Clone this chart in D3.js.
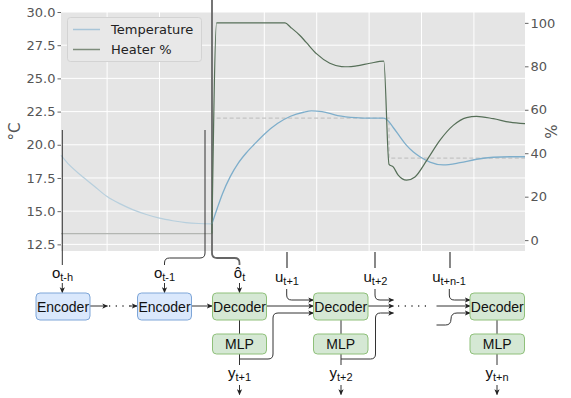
<!DOCTYPE html>
<html><head><meta charset="utf-8">
<script src="https://cdn.jsdelivr.net/npm/d3@7"></script>
<style>body{margin:0;background:#fff}svg{display:block}</style>
</head><body><svg id="c" width="571" height="398"></svg>
<script>
// ---------- data ----------
const tempTicks = [12.5, 15, 17.5, 20, 22.5, 25, 27.5, 30];
const heatTicks = [0, 20, 40, 60, 80, 100];
const timeGrid = [-40, -20, 0, 20, 40, 60, 80, 100];

const pastTime = [-57.6, -55, -50, -45, -40, -35, -30, -25, -20, -15, -10, -5, 0];
const pastTemp = [19.2, 18.6, 17.7, 16.9, 16.1, 15.55, 15.1, 14.75, 14.47, 14.28, 14.14, 14.07, 14.04];
const pastHeatTime = [-57.6, 0];
const pastHeat = [3, 3];

const futTempTime = [0, 2, 4, 7, 10, 13, 16, 20, 25, 30, 35, 38, 42, 48, 55, 60, 65.4, 66.7, 69.2, 71.8, 74.3, 76.9, 79.4, 83.2, 88.3, 94.7, 101, 107.4, 113.7, 119.5];
const futTemp = [14.04, 15.2, 16.3, 17.6, 18.6, 19.36, 20.0, 20.8, 21.6, 22.15, 22.45, 22.55, 22.5, 22.2, 22.04, 22.0, 22.0, 21.9, 21.3, 20.6, 19.95, 19.45, 19.1, 18.7, 18.48, 18.65, 18.91, 19.06, 19.1, 19.1];

const futHeatTime = [0, 1.8, 27.9, 30, 33.6, 36, 40, 45, 49.5, 52, 55.2, 60.3, 65.6, 67.6, 69.2, 71.1, 74.3, 77.5, 82, 87, 92.1, 97.2, 101, 107.4, 113.7, 119.5];
const futHeat = [3, 100, 100, 98, 94.2, 91, 85.7, 81.4, 79.9, 79.8, 80.2, 81.4, 82.4, 34.9, 33.7, 29.9, 27.6, 29.1, 36.7, 45.9, 52.8, 56.4, 57.0, 55.9, 54.3, 53.6];

const spTime = [1.8, 67.6, 67.6, 119.5];
const setpoint = [22, 22, 19, 19];

const legendLabels = ["Temperature", "Heater %"];

// ---------- layout ----------
const P = {l: 61, r: 525, t: 12, b: 251};
const svg = d3.select("#c");
const x = d3.scaleLinear().domain([-57.6, 119.5]).range([P.l, P.r]);
const yT = d3.scaleLinear().domain([12, 30]).range([P.b, P.t]);
const yH = d3.scaleLinear().domain([-5, 105]).range([P.b, P.t]);
const zip = (a, b) => a.map((v, i) => [v, b[i]]);

const chartFont = "DejaVu Sans, sans-serif";
const diagFont = "Liberation Sans, Arial, sans-serif";

// background + grid
svg.append("rect").attr("x", P.l).attr("y", P.t).attr("width", P.r - P.l).attr("height", P.b - P.t).attr("fill", "#e5e5e5");
svg.append("g").selectAll("line").data(tempTicks).join("line")
  .attr("x1", P.l).attr("x2", P.r).attr("y1", d => yT(d)).attr("y2", d => yT(d))
  .attr("stroke", "#fff").attr("stroke-width", 1);
svg.append("g").selectAll("line").data(timeGrid).join("line")
  .attr("y1", P.t).attr("y2", P.b).attr("x1", d => x(d)).attr("x2", d => x(d))
  .attr("stroke", "#fff").attr("stroke-width", 1);

// axes
const axL = svg.append("g").attr("transform", `translate(${P.l},0)`)
  .call(d3.axisLeft(yT).tickValues(tempTicks).tickFormat(d3.format(".1f")).tickSize(3.5).tickPadding(2));
const axR = svg.append("g").attr("transform", `translate(${P.r},0)`)
  .call(d3.axisRight(yH).tickValues(heatTicks).tickSize(3.5).tickPadding(2));
[axL, axR].forEach(a => {
  a.select(".domain").remove();
  a.selectAll("line").attr("stroke", "#666");
  a.selectAll("text").attr("fill", "#555").style("font-family", chartFont).style("font-size", "13px");
});
svg.append("text").attr("transform", `translate(20,${(P.t + P.b) / 2}) rotate(-90)`)
  .attr("text-anchor", "middle").attr("fill", "#555").style("font-family", chartFont).style("font-size", "15px").text("°C");
svg.append("text").attr("transform", `translate(557,${(P.t + P.b) / 2}) rotate(-90)`)
  .attr("text-anchor", "middle").attr("fill", "#555").style("font-family", chartFont).style("font-size", "15px").text("%");

// lines
const lineT = d3.line().x(d => x(d[0])).y(d => yT(d[1])).curve(d3.curveMonotoneX);
const lineH = d3.line().x(d => x(d[0])).y(d => yH(d[1])).curve(d3.curveMonotoneX);
const lineLin = d3.line().x(d => x(d[0])).y(d => yT(d[1]));

svg.append("path").attr("d", lineLin(zip(spTime, setpoint))).attr("fill", "none")
  .attr("stroke", "#c4c4c4").attr("stroke-width", 1.3).attr("stroke-dasharray", "4,2.5");
svg.append("path").attr("d", lineH(zip(pastHeatTime, pastHeat))).attr("fill", "none")
  .attr("stroke", "#b3b6b2").attr("stroke-width", 1.3);
svg.append("path").attr("d", lineT(zip(pastTime, pastTemp))).attr("fill", "none")
  .attr("stroke", "#b7cfdd").attr("stroke-width", 1.2);

// now line
svg.append("path").attr("d", "M212,0 L212,253 Q212,258 217,258 L234.5,258 Q239.5,258 239.5,263 L239.5,265")
  .attr("fill", "none").attr("stroke", "#666").attr("stroke-width", 1.8);

svg.append("path").attr("d", lineT(zip(futTempTime, futTemp))).attr("fill", "none")
  .attr("stroke", "#7eaecb").attr("stroke-width", 1.3);
svg.append("path").attr("d", lineH(zip(futHeatTime, futHeat))).attr("fill", "none")
  .attr("stroke", "#566f58").attr("stroke-width", 1.2);

// legend
const lg = svg.append("g");
lg.append("rect").attr("x", 67.5).attr("y", 17.5).attr("width", 134).attr("height", 44).attr("rx", 3)
  .attr("fill", "#e8e8e8").attr("stroke", "#d3d3d3");
const lgCol = ["#a8c5d8", "#7d8c7b"];
legendLabels.forEach((t, i) => {
  const yy = 29.5 + i * 20;
  lg.append("line").attr("x1", 73).attr("x2", 100).attr("y1", yy).attr("y2", yy).attr("stroke", lgCol[i]).attr("stroke-width", 1.5);
  lg.append("text").attr("x", 111).attr("y", yy + 4.7).attr("fill", "#222")
    .style("font-family", chartFont).style("font-size", "13px").text(t);
});

// ---------- diagram ----------
const defs = svg.append("defs");
defs.append("marker").attr("id", "ah").attr("viewBox", "0 0 8 8").attr("refX", 7).attr("refY", 4)
  .attr("markerWidth", 6).attr("markerHeight", 6).attr("markerUnits", "userSpaceOnUse").attr("orient", "auto")
  .append("path").attr("d", "M0,0.5 L8,4 L0,7.5 L2,4 z").attr("fill", "#222");

const D = svg.append("g").attr("fill", "none").attr("stroke", "#333").attr("stroke-width", 1);
function path(d, arrow, extra) {
  const p = D.append("path").attr("d", d);
  if (arrow) p.attr("marker-end", "url(#ah)");
  if (extra) extra(p);
  return p;
}
// window brackets
path("M62.3,130 L62.3,265");
path("M205,130 L205,253 Q205,258 200,258 L169.5,258 Q164.5,258 164.5,263 L164.5,265");
// u ticks
[287, 375, 450].forEach(xx =>
  path(`M${xx},252 L${xx},268`, false, p => p.attr("stroke", "#555").attr("stroke-width", 1.4)));

// input arrows
path("M62.3,283 L62.3,292.5", true);
path("M164.5,283 L164.5,292.5", true);
path("M239.5,283 L239.5,292.5", true);

// boxes
function box(x0, y0, w, h, fill, stroke, label) {
  svg.append("rect").attr("x", x0).attr("y", y0).attr("width", w).attr("height", h).attr("rx", 4)
    .attr("fill", fill).attr("stroke", stroke).attr("stroke-width", 1);
  svg.append("text").attr("x", x0 + w / 2).attr("y", y0 + h / 2 + 5).attr("text-anchor", "middle")
    .attr("fill", "#111").style("font-family", diagFont).style("font-size", "14px").text(label);
}
const encF = "#dae8fc", encS = "#7ea6d8", decF = "#d5e8d4", decS = "#8fc07a";

// connections
path("M90,306 L107.5,306", true);
path("M109,306 L131,306", false, p => p.attr("stroke-dasharray", "1.2,5.5").attr("stroke-width", 1.3));
path("M130,306 L137,306", true);
path("M191.5,306 L212,306", true);
// decoder 1 -> decoder 2
path("M266.5,306 L313.5,306", true);
path("M286.7,289 L286.7,295 Q286.7,300 291.7,300 L313.5,300", true);
path("M239.5,320 L239.5,334");
path("M239.5,354 L239.5,365");
path("M239.5,359 L268,359 Q273,359 273,354 L273,318 Q273,313 278,313 L313.5,313", true);
// decoder 2 -> ...
path("M368,306 L393.5,306", true);
path("M375,289 L375,295 Q375,300 380,300 L393.5,300", true);
path("M341,320 L341,334");
path("M341,354 L341,365");
path("M341,359 L370.5,359 Q375.5,359 375.5,354 L375.5,318 Q375.5,313 380.5,313 L393.5,313", true);
path("M398,306 L431,306", false, p => p.attr("stroke-dasharray", "1.2,5.5").attr("stroke-width", 1.3));
// -> decoder n
path("M436.5,306 L470,306", true);
path("M449.3,289 L449.3,295 Q449.3,300 454.3,300 L470,300", true);
path("M436.5,325 L445.5,325 Q451,325 451,319 Q451,313 457,313 L470,313", true);
path("M497,320 L497,334");
path("M497,354 L497,365");
// output arrows
[239.5, 341, 497].forEach(xx => path(`M${xx},385 L${xx},394.5`, true));

box(36, 293, 54, 27, encF, encS, "Encoder");
box(137.5, 293, 54, 27, encF, encS, "Encoder");
box(212.5, 293, 54, 27, decF, decS, "Decoder");
box(313.5, 293, 54.5, 27, decF, decS, "Decoder");
box(470, 293, 54.5, 27, decF, decS, "Decoder");
box(212.5, 334, 54, 20, decF, decS, "MLP");
box(313.5, 334, 54.5, 20, decF, decS, "MLP");
box(470, 334, 54.5, 20, decF, decS, "MLP");

// labels with subscripts
function sub(xx, yy, main, s) {
  const t = svg.append("text").attr("x", xx).attr("y", yy).attr("text-anchor", "middle")
    .attr("fill", "#111").style("font-family", diagFont).style("font-size", "15px");
  t.append("tspan").text(main);
  t.append("tspan").attr("dy", 3.5).style("font-size", "11px").text(s);
}
sub(62.5, 277.5, "o", "t-h");
sub(164.5, 277.5, "o", "t-1");
sub(239.5, 277.5, "ô", "t");
sub(287, 281.5, "u", "t+1");
sub(375.5, 281.5, "u", "t+2");
sub(449, 281.5, "u", "t+n-1");
sub(239.5, 377.5, "y", "t+1");
sub(341, 377.5, "y", "t+2");
sub(497, 377.5, "y", "t+n");
</script></body></html>
